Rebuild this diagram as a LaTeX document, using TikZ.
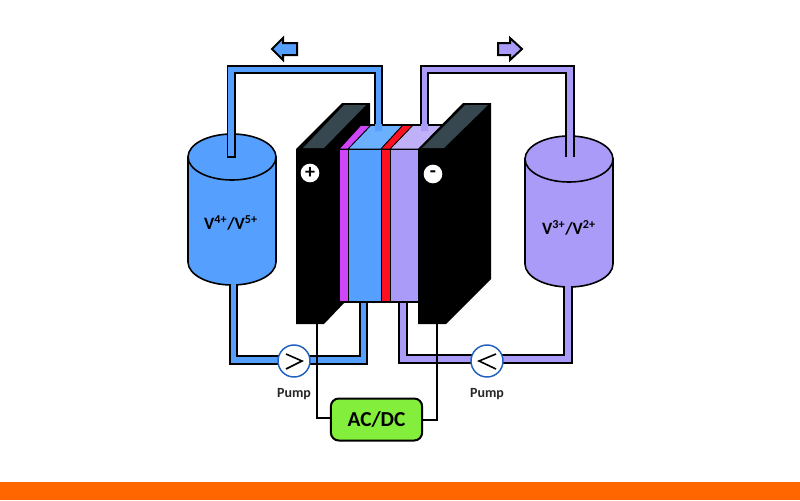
\documentclass[tikz,border=0pt]{standalone}
\usepackage{fontspec}
\setmainfont{Carlito}
\usetikzlibrary{positioning}
\definecolor{posblue}{HTML}{559FFF}
\definecolor{postop}{HTML}{6AB0FF}
\definecolor{neglilac}{HTML}{A99BF7}
\definecolor{negtop}{HTML}{BFB0F8}
\definecolor{memviolet}{HTML}{CF45F8}
\definecolor{memred}{HTML}{FF1020}
\definecolor{slate}{HTML}{36474F}
\definecolor{pumpring}{HTML}{2060C0}
\definecolor{boxgreen}{HTML}{84EE3C}
\definecolor{bandorange}{HTML}{FF6600}

\begin{document}
\begin{tikzpicture}[x=0.75pt, y=-0.75pt, line join=miter,
    edge/.style={draw=black, line width=1.2pt},
    layer/.style={draw=black, line width=0.6pt},
    pumpnode/.style={circle, draw=pumpring, fill=white, line width=1.1pt, minimum size=24pt, inner sep=0pt},
    pumplabel/.style={font=\bfseries\fontsize{10.5}{12}\selectfont, text=black!85},
    tanklabel/.style={font=\bfseries\fontsize{13}{15}\selectfont, text=black},
    signnode/.style={circle, fill=white, minimum size=14pt, inner sep=0pt, font=\bfseries\fontsize{15}{15}\selectfont}]
        \useasboundingbox (0,0) rectangle (800,500);

        % Bottom band
        \fill[bandorange] (0,482) rectangle (800,500);

        % Draw the two tanks
        \foreach \xa/\ya/\col in {188/157/posblue, 525/159/neglilac}
        {
          \path[edge, fill=\col] (\xa,\ya) -- (\xa,\ya+105) arc (180:0:44 and 23) -- (\xa+88,\ya) -- cycle;
          \path[edge, fill=\col] (\xa+44,\ya) ellipse (44 and 23);
        }

        % Lower pipes, these go under the cell
        \fill[posblue] (230,282) -- (230,364) -- (367,364) -- (367,300) -- (360,300) -- (360,356) -- (237,356) -- (237,282) -- cycle;
        \draw[edge] (230,284) -- (230,364) -- (367,364) -- (367,300);
        \draw[edge] (237,284) -- (237,356) -- (360,356) -- (360,300);
        \fill[neglilac] (399,300) -- (399,363) -- (572,363) -- (572,284) -- (564,284) -- (564,355) -- (407,355) -- (407,300) -- cycle;
        \draw[edge] (399,300) -- (399,363) -- (572,363) -- (572,286);
        \draw[edge] (407,300) -- (407,355) -- (564,355) -- (564,286);

        % Draw the top faces of the layers
        \path[layer, fill=postop] (348,149) -- (371,125) -- (403,125) -- (381,149) -- cycle;
        \path[layer, fill=negtop] (390,149) -- (413,125) -- (446,125) -- (420,149) -- cycle;
        \path[layer, fill=memviolet] (339,149) -- (361,125) -- (371,125) -- (348,149) -- cycle;
        \path[layer, fill=memred] (381,149) -- (403,125) -- (413,125) -- (390,149) -- cycle;
        \draw[edge] (361,125) -- (446,125);

        % Draw the front faces of the layers
        \path[layer, fill=memviolet] (339,149) rectangle (348,302);
        \path[layer, fill=posblue] (348,149) rectangle (381,302);
        \path[layer, fill=memred] (381,149) rectangle (390,302);
        \path[layer, fill=neglilac] (390,149) rectangle (418,302);
        \draw[edge] (339,302) -- (418,302);

        % Draw the two electrodes
        \fill[black] (296,149) -- (342,103) -- (370,103) -- (370,125) -- (361,125) -- (339,149) -- (339,302) -- (345,302) -- (324,324) -- (296,324) -- cycle;
        \fill[slate] (303,148) -- (344,105) -- (366,105) -- (324,148) -- cycle;
        \fill[black] (418,149) -- (463,103) -- (491,103) -- (491,279) -- (446,324) -- (418,324) -- cycle;
        \fill[slate] (422,148) -- (465,105) -- (488,105) -- (444,148) -- cycle;

        \node[signnode] (plus) at (310,173) {+};
        \node[signnode] (minus) at (433,174) {-};

        % Upper pipes
        \fill[posblue] (227.5,157) -- (227.5,66) -- (382,66) -- (382,131) -- (375,131) -- (375,73) -- (235,73) -- (235,157) -- cycle;
        \draw[edge] (375,124) -- (375,73) -- (235,73) -- (235,157) -- (227.5,157) -- (227.5,66) -- (382,66) -- (382,124);
        \fill[neglilac] (421,131) -- (421,66) -- (574,66) -- (574,157) -- (566,157) -- (566,73) -- (428,73) -- (428,131) -- cycle;
        \draw[edge] (428,124) -- (428,73) -- (566,73) -- (566,157);
        \draw[edge] (421,124) -- (421,66) -- (574,66) -- (574,157);

        % Flow arrows
        \path[edge, line width=1.5pt, fill=posblue] (272,49) -- (283,38) -- (283,43) -- (297,43) -- (297,55) -- (283,55) -- (283,60) -- cycle;
        \path[edge, line width=1.5pt, fill=neglilac] (522,49) -- (510,38) -- (510,43) -- (498,43) -- (498,55) -- (510,55) -- (510,60) -- cycle;

        \node[tanklabel] (tankp) at (231,223) {V\textsuperscript{4+}/V\textsuperscript{5+}};
        \node[tanklabel] (tankn) at (569,228) {V\textsuperscript{3+}/V\textsuperscript{2+}};

        % Pumps
        \node[pumpnode] (pumpl) at (294,361) {};
        \node[pumpnode] (pumpr) at (487,361) {};
        \draw[black, line width=1.2pt] (286,354) -- (302,361) -- (286,369);
        \draw[black, line width=1.2pt] (496,354) -- (479,361) -- (496,369);
        \node[pumplabel] (labell) at (294,394) {Pump};
        \node[pumplabel] (labelr) at (487,394) {Pump};

        % Converter and its wires
        \node[draw=black, fill=boxgreen, line width=1.5pt, rounded corners=6pt, minimum width=68.5pt, minimum height=31.5pt, inner sep=0pt, font=\bfseries\fontsize{16}{18}\selectfont, text=black] (box) at (376.5,419.5) {AC/DC};
        \coordinate (wirel) at (317,324);
        \coordinate (wirer) at (437,324);
        \draw[black, line width=1.1pt] (wirel) |- (box.west |- 0,418);
        \draw[black, line width=1.1pt] (wirer) |- (box.east |- 0,420);
      \end{tikzpicture}
\end{document}
